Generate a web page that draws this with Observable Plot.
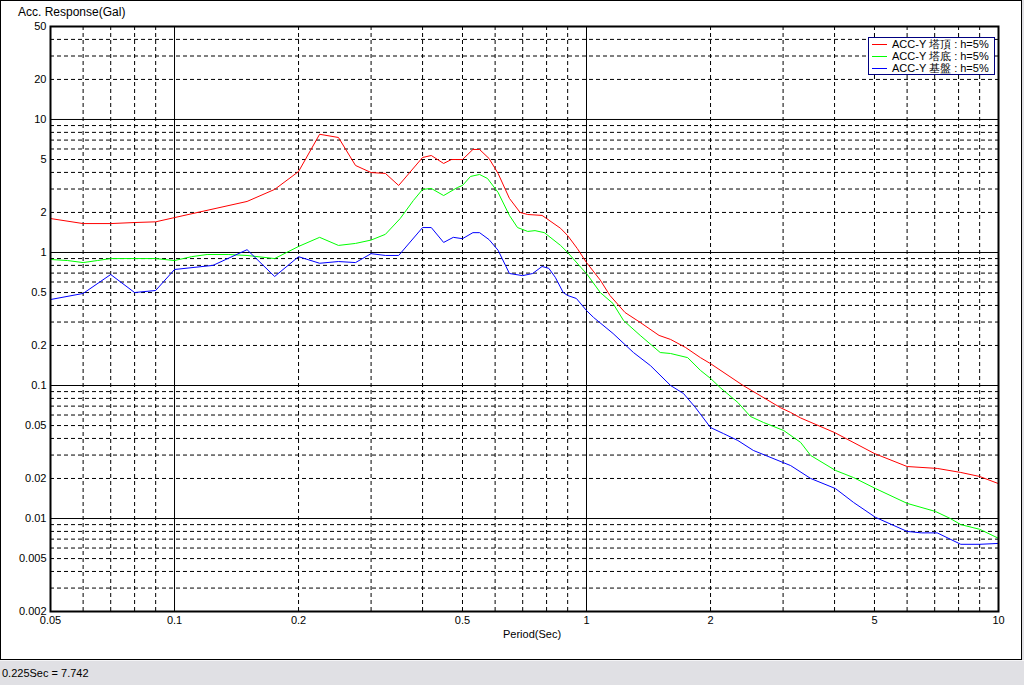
<!DOCTYPE html>
<html><head><meta charset="utf-8">
<script src="https://cdn.jsdelivr.net/npm/d3@7"></script>
<script src="https://cdn.jsdelivr.net/npm/@observablehq/plot@0.6"></script>
<style>
html,body{margin:0;padding:0;}
body{width:1024px;height:685px;background:#e0e0e4;position:relative;overflow:hidden;font-family:"Liberation Sans",Arial,sans-serif;color:#000;}
#panel{position:absolute;left:0;top:0;width:1020px;height:658px;border:1px solid #000;background:#fff;}
#chart{position:absolute;left:0;top:0;}
.txt{position:absolute;font-size:11px;line-height:12px;white-space:nowrap;font-weight:normal;}
#legend{position:absolute;left:868px;top:37px;width:125px;height:36px;border:1px solid #000080;background:#fff;}
#legend .row{position:absolute;left:0;height:12px;width:125px;}
#legend .sw{position:absolute;left:3px;top:6px;width:15px;height:1px;}
#legend .lab{position:absolute;left:23px;top:0;font-size:11px;line-height:12px;white-space:nowrap;}
#status{position:absolute;left:0;top:660px;width:1024px;height:25px;background:#e0e0e4;border-top:1px solid #f4f4f6;}
</style></head>
<body>
<div id="panel"></div>
<div id="chart"></div>
<div class="txt" style="left:18px;top:5px;font-size:12px;line-height:14px;">Acc. Response(Gal)</div>
<div class="txt" id="xlabel" style="left:532px;top:628px;transform:translateX(-50%);">Period(Sec)</div>
<div id="legend"></div>
<div id="status"><div class="txt" style="left:2px;top:6px;">0.225Sec = 7.742</div></div>
<script>
// ---- data ----
const seriesNames = ["ACC-Y 塔頂 : h=5%", "ACC-Y 塔底 : h=5%", "ACC-Y 基盤 : h=5%"];
const seriesColors = ["#ff0000", "#00ff00", "#0000ff"];

const redPeriod = [0.05,0.06,0.07,0.08,0.09,0.1,0.15,0.175,0.2,0.225,0.25,0.275,0.3,0.325,0.35,0.4,0.42,0.45,0.47,0.5,0.53,0.55,0.58,0.61,0.65,0.69,0.72,0.78,0.8,0.865,0.9,0.95,1.0,1.08,1.14,1.24,1.35,1.5,1.6,1.74,1.89,2.0,2.4,2.96,3.13,3.31,4.0,5.0,6.0,7.1,8.1,9.0,10];
const redAcc    = [1.80,1.65,1.65,1.68,1.70,1.83,2.42,2.98,4.06,7.74,7.32,4.51,3.99,3.93,3.19,5.18,5.36,4.67,5.0,5.0,5.95,5.95,5.09,3.93,2.55,2.0,1.93,1.90,1.80,1.52,1.34,1.07,0.84,0.62,0.475,0.354,0.298,0.238,0.222,0.193,0.162,0.146,0.10,0.068,0.0627,0.057,0.0443,0.0308,0.0246,0.0238,0.0222,0.0207,0.0183];

const greenPeriod = [0.05,0.055,0.06,0.065,0.07,0.075,0.09,0.1,0.105,0.11,0.12,0.135,0.15,0.175,0.2,0.225,0.25,0.275,0.3,0.325,0.353,0.38,0.4,0.42,0.45,0.486,0.5,0.523,0.55,0.575,0.61,0.65,0.68,0.72,0.75,0.79,0.865,0.9,0.97,1.0,1.08,1.16,1.23,1.35,1.51,1.6,1.76,1.89,2.0,2.11,2.33,2.5,2.69,3.01,3.31,3.5,4.02,4.45,5.03,6.0,7.03,7.64,8.1,9.0,10];
const greenAcc    = [0.886,0.87,0.84,0.87,0.90,0.90,0.90,0.87,0.90,0.93,0.966,0.966,0.95,0.90,1.11,1.30,1.13,1.17,1.24,1.37,1.80,2.46,2.98,3.03,2.68,3.08,3.19,3.73,3.86,3.6,2.83,1.90,1.54,1.44,1.46,1.41,1.13,1.0,0.77,0.695,0.50,0.413,0.308,0.238,0.177,0.174,0.162,0.130,0.113,0.0966,0.0745,0.0585,0.0527,0.0459,0.0373,0.0298,0.0230,0.0203,0.0168,0.0130,0.0113,0.0100,0.0090,0.0083,0.0071];

const bluePeriod = [0.05,0.06,0.07,0.08,0.09,0.1,0.124,0.15,0.175,0.2,0.225,0.25,0.275,0.3,0.325,0.35,0.4,0.42,0.45,0.475,0.5,0.53,0.55,0.58,0.61,0.65,0.7,0.74,0.78,0.81,0.84,0.878,0.9,0.945,1.0,1.04,1.16,1.3,1.43,1.6,1.72,1.84,2.0,2.15,2.33,2.54,3.13,3.5,4.02,4.45,5.03,6.0,6.5,7.1,8.1,9.0,10];
const blueAcc    = [0.443,0.492,0.683,0.50,0.518,0.745,0.80,1.05,0.66,0.93,0.83,0.855,0.84,0.98,0.95,0.95,1.54,1.54,1.19,1.30,1.27,1.41,1.41,1.25,1.04,0.695,0.67,0.695,0.785,0.76,0.65,0.50,0.475,0.451,0.366,0.325,0.246,0.177,0.141,0.10,0.087,0.068,0.0483,0.0435,0.0386,0.0325,0.025,0.020,0.0168,0.0132,0.0102,0.0080,0.0078,0.0078,0.0064,0.0064,0.0065];

const xTickLabels = [0.05,0.1,0.2,0.5,1,2,5,10];
const yTickLabels = [0.002,0.005,0.01,0.02,0.05,0.1,0.2,0.5,1,2,5,10,20,50];
const xMajorGrid = [0.1,1];
const xMinorGrid = [0.06,0.07,0.08,0.09,0.2,0.3,0.4,0.5,0.6,0.7,0.8,0.9,2,3,4,5,6,7,8,9];
const yMajorGrid = [0.01,0.1,1,10];
const yMinorGrid = [0.003,0.004,0.005,0.006,0.007,0.008,0.009,0.02,0.03,0.04,0.05,0.06,0.07,0.08,0.09,0.2,0.3,0.4,0.5,0.6,0.7,0.8,0.9,2,3,4,5,6,7,8,9,20,30,40];

// ---- build tables ----
const toRows = (ps, vs, s) => ps.map((p, i) => ({period: p, acc: vs[i], series: s}));
const rows = [
  ...toRows(redPeriod, redAcc, seriesNames[0]),
  ...toRows(greenPeriod, greenAcc, seriesNames[1]),
  ...toRows(bluePeriod, blueAcc, seriesNames[2])
];

const fmt = d => String(d);
const dash = {stroke: "#000", strokeWidth: 1, strokeDasharray: "4,3"};

const chart = Plot.plot({
  width: 1022,
  height: 660,
  marginLeft: 50,
  marginRight: 24,
  marginTop: 26,
  marginBottom: 49,
  style: {background: "transparent", fontFamily: "Liberation Sans, Arial, sans-serif", fontSize: "11px", color: "#000"},
  x: {type: "log", domain: [0.05, 10], axis: null},
  y: {type: "log", domain: [0.002, 50], axis: null},
  color: {domain: seriesNames, range: seriesColors},
  marks: [
    Plot.ruleX(xMinorGrid, dash),
    Plot.ruleY(yMinorGrid, dash),
    Plot.ruleX(xMajorGrid, {stroke: "#000", strokeWidth: 1}),
    Plot.ruleY(yMajorGrid, {stroke: "#000", strokeWidth: 1}),
    Plot.line(rows, {x: "period", y: "acc", z: "series", stroke: "series", strokeWidth: 1}),
    Plot.frame({stroke: "#000", strokeWidth: 2}),
    Plot.text(xTickLabels, {x: d => d, text: fmt, frameAnchor: "bottom", lineAnchor: "top", dy: 5, fill: "#000", fontSize: 11}),
    Plot.text(yTickLabels, {y: d => d, text: fmt, frameAnchor: "left", textAnchor: "end", dx: -4, fill: "#000", fontSize: 11})
  ]
});
document.getElementById("chart").appendChild(chart);

// ---- legend ----
const legend = document.getElementById("legend");
const rowTops = [0, 12, 24];
seriesNames.forEach((name, i) => {
  const r = document.createElement("div");
  r.className = "row";
  r.style.top = rowTops[i] + "px";
  const sw = document.createElement("div");
  sw.className = "sw";
  sw.style.background = seriesColors[i];
  const lab = document.createElement("div");
  lab.className = "lab";
  lab.textContent = name;
  r.appendChild(sw); r.appendChild(lab);
  legend.appendChild(r);
});
</script>
</body></html>
